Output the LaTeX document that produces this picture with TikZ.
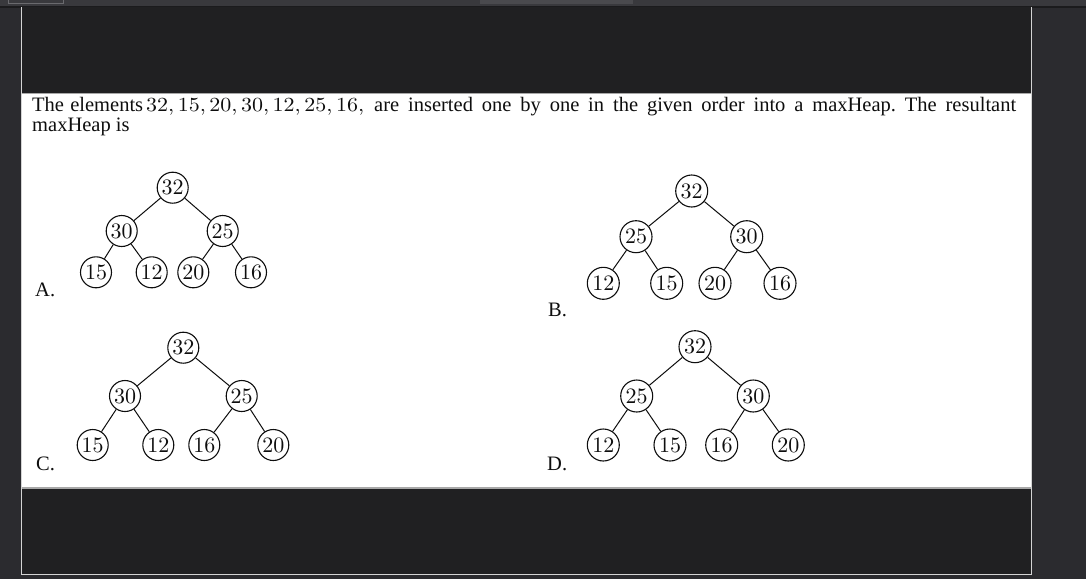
\documentclass[tikz,border=0pt]{standalone}
\usepackage{fontspec}
\usepackage{graphicx}
\newfontfamily\tnr{Liberation Serif}
\newfontfamily\cmten{lmroman10-regular}[Extension=.otf]
\frenchspacing
\definecolor{outerbg}{HTML}{2B2B2F}
\definecolor{topstrip}{HTML}{39393D}
\definecolor{darkline}{HTML}{1B1B1D}
\definecolor{panel}{HTML}{202022}
\definecolor{frameline}{HTML}{D4D4D4}
\definecolor{tabline}{HTML}{6A6A6E}
\definecolor{tabfill}{HTML}{4A4A4E}
\definecolor{sepline}{HTML}{A8A8A8}
\definecolor{ink}{HTML}{0E0E0E}
\tikzset{
  heapnode/.style={circle, draw=ink, line width=1.1pt, inner sep=0pt, minimum size=31pt, text=ink, font=\cmten\fontsize{22}{22}\selectfont},
  bignode/.style={heapnode, minimum size=32pt},
  edge/.style={draw=ink, line width=1pt},
  txt/.style={anchor=base west, inner sep=0pt, text=ink, font=\tnr\fontsize{20.5}{24}\selectfont},
}
\begin{document}
\begin{tikzpicture}[x=1pt,y=-1pt]
\useasboundingbox (0,0) rectangle (1086,579);
% backgrounds
\fill[outerbg] (0,0) rectangle (1086,579);
\fill[topstrip] (0,0) rectangle (1086,6);
\fill[darkline] (0,6) rectangle (1086,7.5);
\fill[tabfill] (480,0) rectangle (633,4);
\draw[tabline, line width=0.8pt] (8,-1) rectangle (63,3);
\fill[panel] (22,7) rectangle (1031,574);
\fill[white] (22,93) rectangle (1031,487);
\fill[sepline] (22,487) rectangle (1031,488.5);
\draw[frameline, line width=1.2pt] (21.6,7) -- (21.6,574.5) -- (1031.4,574.5) -- (1031.4,7);
\draw[sepline, line width=0.8pt] (22,93) -- (1031,93);

% question text
\node[txt] (t1) at (32,111.5) {\makebox[111pt][s]{The elements}};
\node[txt] (t2) at (146,111.5) {\scalebox{1.1}[1]{\cmten\fontsize{20}{24}\selectfont 32,\kern3.2pt15,\kern3.2pt20,\kern3.2pt30,\kern3.2pt12,\kern3.2pt25,\kern3.2pt16,}};
\node[txt] (t3) at (374,111.5) {\makebox[642pt][s]{are inserted one by one in the given order into a maxHeap. The resultant}};
\node[txt] (t4) at (32,131) {maxHeap is};

% option labels
\node[txt] (la) at (35,296) {A.};
\node[txt] (lb) at (548,316) {B.};
\node[txt] (lc) at (36,470) {C.};
\node[txt] (ld) at (547,470) {D.};

% tree A
\node[heapnode] (a32) at (172.7,187.7) {32};
\node[heapnode] (a30) at (121.7,231) {30};
\node[heapnode] (a25) at (222.7,231) {25};
\node[heapnode] (a15) at (96,272.3) {15};
\node[heapnode] (a12) at (151.7,272.3) {12};
\node[heapnode] (a20) at (193.3,272.3) {20};
\node[heapnode] (a16) at (251,272.3) {16};
\draw[edge] (a32) -- (a30);
\draw[edge] (a32) -- (a25);
\draw[edge] (a30) -- (a15);
\draw[edge] (a30) -- (a12);
\draw[edge] (a25) -- (a20);
\draw[edge] (a25) -- (a16);

% tree B
\node[bignode] (b32) at (691.7,191) {32};
\node[bignode] (b25) at (636,236.7) {25};
\node[bignode] (b30) at (746.7,236.7) {30};
\node[bignode] (b12) at (603.3,283.3) {12};
\node[bignode] (b15) at (666.7,283.3) {15};
\node[bignode] (b20) at (715,283.3) {20};
\node[bignode] (b16) at (780,283.3) {16};
\draw[edge] (b32) -- (b25);
\draw[edge] (b32) -- (b30);
\draw[edge] (b25) -- (b12);
\draw[edge] (b25) -- (b15);
\draw[edge] (b30) -- (b20);
\draw[edge] (b30) -- (b16);

% tree C
\node[heapnode] (c32) at (183.3,347.7) {32};
\node[heapnode] (c30) at (125,396) {30};
\node[heapnode] (c25) at (241.7,396) {25};
\node[heapnode] (c15) at (92.7,445) {15};
\node[heapnode] (c12) at (158.3,445) {12};
\node[heapnode] (c16) at (204.3,445) {16};
\node[heapnode] (c20) at (273.3,445) {20};
\draw[edge] (c32) -- (c30);
\draw[edge] (c32) -- (c25);
\draw[edge] (c30) -- (c15);
\draw[edge] (c30) -- (c12);
\draw[edge] (c25) -- (c16);
\draw[edge] (c25) -- (c20);

% tree D
\node[bignode] (d32) at (695,346.7) {32};
\node[bignode] (d25) at (636.7,396) {25};
\node[bignode] (d30) at (753.3,396) {30};
\node[bignode] (d12) at (603.3,445) {12};
\node[bignode] (d15) at (670,445) {15};
\node[bignode] (d16) at (721.7,445) {16};
\node[bignode] (d20) at (788.3,445) {20};
\draw[edge] (d32) -- (d25);
\draw[edge] (d32) -- (d30);
\draw[edge] (d25) -- (d12);
\draw[edge] (d25) -- (d15);
\draw[edge] (d30) -- (d16);
\draw[edge] (d30) -- (d20);
\end{tikzpicture}
\end{document}
